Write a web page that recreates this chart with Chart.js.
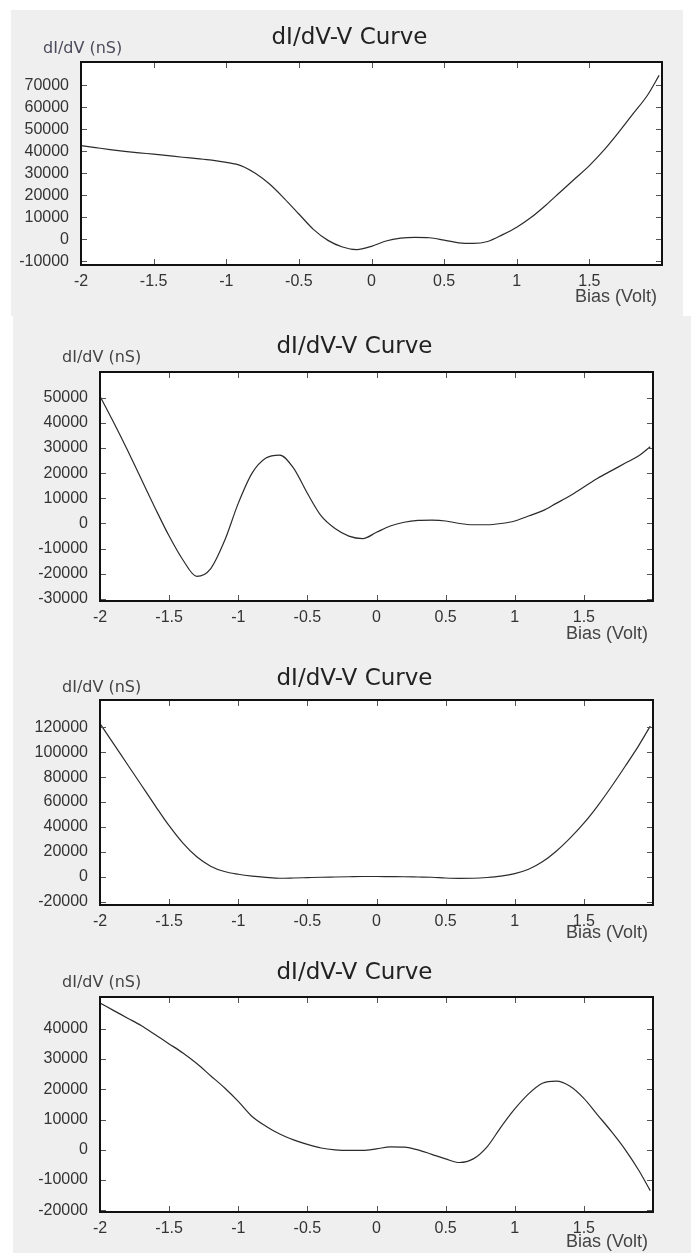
<!DOCTYPE html>
<html>
<head>
<meta charset="utf-8">
<title>dI/dV-V Curve</title>
<script src="https://cdn.jsdelivr.net/npm/chart.js@4.4.1/dist/chart.umd.min.js"></script>
<style>
  html, body { margin: 0; padding: 0; background: #ffffff; }
  body { width: 691px; height: 1253px; position: relative; overflow: hidden; }
  .sheet { position: absolute; background: #efefef; }
  canvas { position: absolute; }
</style>
</head>
<body>
<div class="sheet" style="left:11px; top:10px; width:672px; height:306px;"></div>
<div class="sheet" style="left:13px; top:316px; width:678px; height:937px;"></div>
<canvas id="curve1"></canvas>
<canvas id="curve2"></canvas>
<canvas id="curve3"></canvas>
<canvas id="curve4"></canvas>
<script>
// Bias voltage samples (Volt), shared by all four curves
const biasVolts = [-2, -1.9, -1.8, -1.7, -1.6, -1.5, -1.4, -1.3, -1.2, -1.1, -1.0,
  -0.9, -0.8, -0.7, -0.6, -0.5, -0.4, -0.3, -0.2, -0.1, 0,
  0.1, 0.2, 0.3, 0.4, 0.5, 0.6, 0.7, 0.8, 0.9, 1.0,
  1.1, 1.2, 1.3, 1.4, 1.5, 1.6, 1.7, 1.8, 1.9, 1.98];

// dI/dV (nS)
const curve1 = [42600, 41700, 40800, 40000, 39300, 38700, 38000, 37300, 36700, 36000, 35000,
  33500, 30000, 25000, 18500, 11500, 4500, -500, -3500, -4700, -3200,
  -800, 500, 900, 700, -400, -1600, -1900, -1000, 2000, 5500,
  10000, 15500, 21500, 27500, 33500, 40500, 48500, 57000, 65500, 74500];
const curve2 = [50600, 40000, 29000, 17500, 6000, -5000, -14500, -21000, -18000, -7000, 8000,
  20000, 26000, 27200, 22000, 12000, 3000, -2000, -5000, -6000, -3500,
  -1000, 500, 1200, 1300, 1000, 0, -500, -500, 0, 1000,
  3000, 5000, 8000, 11000, 14500, 18000, 21000, 24000, 27000, 30500];
const curve3 = [123000, 106500, 90000, 73500, 57000, 41000, 27000, 16000, 8500, 4200, 2000,
  500, -500, -1200, -1000, -700, -400, -200, 0, 200, 200,
  100, 0, -200, -400, -1000, -1300, -1200, -600, 500, 2500,
  6000, 12000, 20500, 31000, 43000, 57000, 72500, 89000, 106000, 121000];
const curve4 = [48500, 46000, 43500, 41000, 38000, 35000, 32000, 28500, 24500, 20500, 16000,
  11000, 7800, 5200, 3300, 1800, 600, 0, -200, -200, 300,
  1000, 900, 0, -1500, -3000, -4200, -3000, 1000, 7500, 13500,
  18500, 22000, 22700, 21000, 17000, 11500, 6000, 0, -7000, -13500];

// tick labels
const biasTicks = [-2, -1.5, -1, -0.5, 0, 0.5, 1, 1.5];
const yTicks1 = [-10000, 0, 10000, 20000, 30000, 40000, 50000, 60000, 70000];
const yTicks2 = [-30000, -20000, -10000, 0, 10000, 20000, 30000, 40000, 50000];
const yTicks3 = [-20000, 0, 20000, 40000, 60000, 80000, 100000, 120000];
const yTicks4 = [-20000, -10000, 0, 10000, 20000, 30000, 40000];

const TITLE = 'dI/dV-V Curve';
const Y_NAME = 'dI/dV (nS)';
const X_NAME = 'Bias (Volt)';

const TICK_FONT = "'Liberation Sans', Arial, sans-serif";

// draws the framed box, inner tick marks and the three captions
const framePlugin = {
  id: 'frame',
  beforeDraw(chart) {
    const { ctx, chartArea: a } = chart;
    ctx.save();
    ctx.fillStyle = '#ffffff';
    ctx.fillRect(a.left, a.top, a.right - a.left, a.bottom - a.top);
    ctx.restore();
  },
  afterDraw(chart) {
    const { ctx, chartArea: a, scales } = chart;
    const o = chart.options.plugins.frame;
    const len = 6;
    ctx.save();
    ctx.strokeStyle = '#555';
    ctx.lineWidth = 1;
    ctx.beginPath();
    scales.x.ticks.forEach(t => {
      const px = Math.round(scales.x.getPixelForValue(t.value)) + 0.5;
      ctx.moveTo(px, a.top); ctx.lineTo(px, a.top + len);
      ctx.moveTo(px, a.bottom); ctx.lineTo(px, a.bottom - len);
    });
    scales.y.ticks.forEach(t => {
      const py = Math.round(scales.y.getPixelForValue(t.value)) + 0.5;
      ctx.moveTo(a.left, py); ctx.lineTo(a.left + len, py);
      ctx.moveTo(a.right, py); ctx.lineTo(a.right - len, py);
    });
    ctx.stroke();

    ctx.strokeStyle = '#111';
    ctx.lineWidth = 2;
    ctx.strokeRect(a.left, a.top, a.right - a.left, a.bottom - a.top);

    ctx.textBaseline = 'middle';
    ctx.fillStyle = '#222';
    ctx.textAlign = 'center';
    ctx.font = "23px 'DejaVu Sans', sans-serif";
    ctx.fillText(TITLE, (a.left + a.right) / 2 - 22, a.top - o.titleDy);

    ctx.fillStyle = o.yNameColor;
    ctx.textAlign = 'left';
    ctx.font = "16px 'DejaVu Sans', sans-serif";
    ctx.fillText(Y_NAME, a.left - 38, a.top - o.yNameDy);

    ctx.fillStyle = '#444';
    ctx.textAlign = 'right';
    ctx.font = "18px 'Liberation Sans', Arial, sans-serif";
    ctx.fillText(X_NAME, a.right - 5, a.bottom + o.xNameDy);
    ctx.restore();
  }
};

function makePanel(id, values, yTicks, yMin, yMax, rect, box, captions) {
  const canvas = document.getElementById(id);
  canvas.width = rect.w;
  canvas.height = rect.h;
  canvas.style.left = rect.x + 'px';
  canvas.style.top = rect.y + 'px';

  const yAxisWidth = box.l - rect.x - 4;
  const xAxisHeight = 30;

  return new Chart(canvas, {
    type: 'line',
    data: {
      datasets: [{
        data: biasVolts.map((v, i) => ({ x: v, y: values[i] })),
        borderColor: '#2b2b2b',
        borderWidth: 1.2,
        pointRadius: 0,
        cubicInterpolationMode: 'monotone',
        fill: false
      }]
    },
    options: {
      responsive: false,
      animation: false,
      events: [],
      layout: {
        padding: {
          left: 4,
          right: rect.x + rect.w - box.r,
          top: box.t - rect.y,
          bottom: rect.y + rect.h - box.b - xAxisHeight
        }
      },
      scales: {
        x: {
          type: 'linear',
          min: -2,
          max: 2,
          afterBuildTicks: s => { s.ticks = biasTicks.map(v => ({ value: v })); },
          afterFit: s => { s.height = xAxisHeight; },
          grid: { display: false, drawTicks: false },
          border: { display: false },
          ticks: {
            padding: 7,
            maxRotation: 0,
            autoSkip: false,
            color: '#333',
            font: { family: TICK_FONT, size: 16 },
            callback: v => String(v)
          }
        },
        y: {
          min: yMin,
          max: yMax,
          afterBuildTicks: s => { s.ticks = yTicks.map(v => ({ value: v })); },
          afterFit: s => { s.width = yAxisWidth; },
          grid: { display: false, drawTicks: false },
          border: { display: false },
          ticks: {
            padding: 12,
            autoSkip: false,
            color: '#333',
            font: { family: TICK_FONT, size: 16 },
            callback: v => String(v)
          }
        }
      },
      plugins: {
        legend: { display: false },
        tooltip: { enabled: false },
        frame: captions
      }
    },
    plugins: [framePlugin]
  });
}

makePanel('curve1', curve1, yTicks1, -11700, 80600,
  { x: 11, y: 10, w: 672, h: 306 }, { l: 81, t: 62, r: 662, b: 265 },
  { yNameColor: '#4b4b5c', titleDy: 24, yNameDy: 13, xNameDy: 32 });
makePanel('curve2', curve2, yTicks2, -30800, 60200,
  { x: 13, y: 316, w: 678, h: 330 }, { l: 100, t: 372, r: 653, b: 601 },
  { yNameColor: '#444', titleDy: 25, yNameDy: 14, xNameDy: 33 });
makePanel('curve3', curve3, yTicks3, -22700, 142000,
  { x: 13, y: 640, w: 678, h: 310 }, { l: 100, t: 700, r: 653, b: 905 },
  { yNameColor: '#444', titleDy: 21, yNameDy: 12, xNameDy: 28 });
makePanel('curve4', curve4, yTicks4, -20550, 50500,
  { x: 13, y: 938, w: 678, h: 315 }, { l: 100, t: 997, r: 653, b: 1212 },
  { yNameColor: '#444', titleDy: 24, yNameDy: 14, xNameDy: 30 });
</script>
</body>
</html>
